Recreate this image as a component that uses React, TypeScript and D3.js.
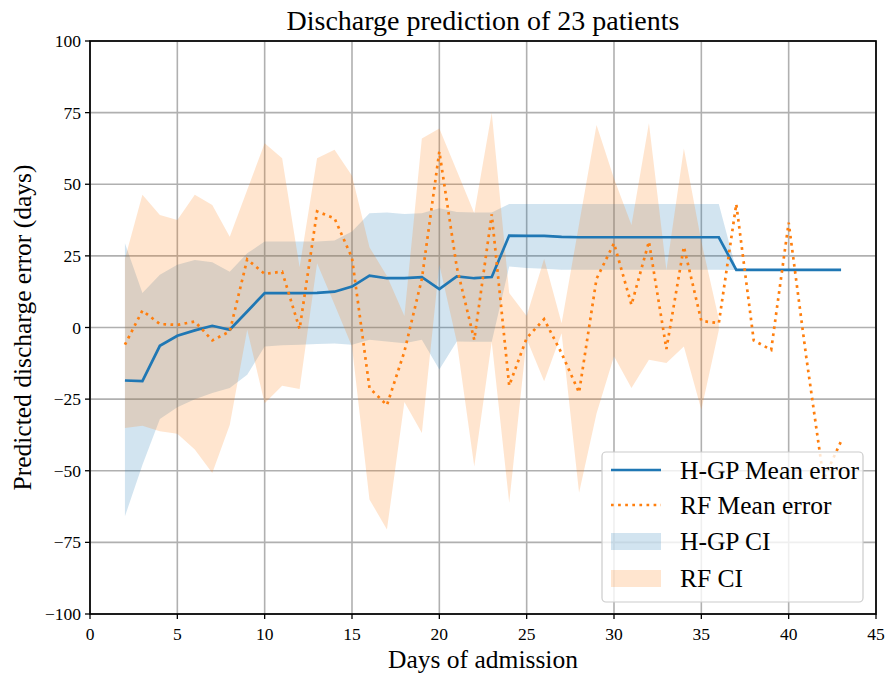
import React from 'react';
import * as d3 from 'd3';

// days of admission (x values)
const days = [2, 3, 4, 5, 6, 7, 8, 9, 10, 11, 12, 13, 14, 15, 16, 17, 18, 19, 20, 21, 22,
  23, 24, 25, 26, 27, 28, 29, 30, 31, 32, 33, 34, 35, 36, 37, 38, 39, 40, 41, 42, 43];

const hgpMean = [-18.5, -18.7, -6.4, -2.9, -1.0, 0.6, -0.8, 5.6, 12.0, 12.0, 12.0, 12.1, 12.5,
  14.3, 18.1, 17.2, 17.2, 17.6, 13.4, 17.8, 17.2, 17.6, 32.1, 32.0, 32.0, 31.6, 31.5, 31.5,
  31.5, 31.5, 31.5, 31.5, 31.5, 31.5, 31.5, 20.1, 20.1, 20.1, 20.1, 20.1, 20.1, 20.1];

const hgpUpper = [29.4, 12.0, 18.4, 21.9, 23.6, 22.8, 19.5, 25.9, 30.0, 30.0, 30.0, 30.0, 30.4,
  33.5, 39.9, 40.1, 39.6, 39.9, 41.6, 40.3, 40.1, 40.1, 43.1, 43.1, 43.1, 43.1, 43.1, 43.1,
  43.1, 43.1, 43.1, 43.1, 43.1, 43.1, 43.1, 20.1, 20.1, 20.1, 20.1, 20.1, 20.1, 20.1];

const hgpLower = [-65.9, -48.0, -31.9, -27.8, -25.0, -22.9, -21.1, -16.5, -6.6, -6.2, -6.0, -5.8,
  -5.6, -6.0, -4.3, -4.9, -5.5, -4.3, -14.7, -4.9, -5.0, -5.0, 21.3, 20.8, 20.5, 20.2, 20.2,
  20.2, 20.2, 20.2, 20.2, 20.2, 20.2, 20.2, 20.2, 20.1, 20.1, 20.1, 20.1, 20.1, 20.1, 20.1];

const rfMean = [-6.0, 5.9, 1.2, 0.9, 2.1, -4.5, -1.4, 23.8, 18.7, 19.5, -0.5, 40.5, 38.1, 24.3,
  -21.1, -27.1, -8.4, 17.0, 61.4, 21.0, -4.3, 39.5, -20.3, -3.7, 2.9, -9.0, -22.7, 17.0, 29.4,
  7.9, 30.0, -7.5, 28.2, 2.3, 1.5, 43.1, -4.5, -7.8, 36.6, -10.0, -53.0, -39.7];

// RF confidence band only covers days 2..36
const rfDays = [2, 3, 4, 5, 6, 7, 8, 9, 10, 11, 12, 13, 14, 15, 16, 17, 18, 19, 20, 21, 22,
  23, 24, 25, 26, 27, 28, 29, 30, 31, 32, 33, 34, 35, 36];

const rfUpper = [24, 46.3, 39.3, 37.5, 46.3, 42.8, 31.7, 48, 64.3, 59.1, 21, 59.1, 62, 53, 28,
  18, 4, 66, 69.5, 54.7, 39.9, 75, 12, 4, 24, 1.5, 36, 70.7, 52, 35.8, 71.3, 20, 62.5, 30, 3];

const rfLower = [-35.1, -34.3, -36.2, -37.1, -42.6, -50.8, -34, -0.8, -26.4, -20.3, -21.5, 22.4,
  8, -6.6, -60, -70.5, -26, -36.8, 22, -5, -48.5, -5, -61.2, -4, -18.8, -2, -57.7, -30, -10,
  -21.1, -11.3, -12.4, -6.6, -28.7, -1];

const xTicks = [0, 5, 10, 15, 20, 25, 30, 35, 40, 45];
const yTicks = [-100, -75, -50, -25, 0, 25, 50, 75, 100];

const legendItems = ['H-GP Mean error', 'RF Mean error', 'H-GP CI', 'RF CI'];

const W = 886;
const H = 673;
const FONT = '"Liberation Serif", "Times New Roman", serif';
const BLUE = '#1f77b4';
const ORANGE = '#ff7f0e';

const App: React.FC = () => {
  const x = d3.scaleLinear().domain([0, 45]).range([90, 876]);
  const y = d3.scaleLinear().domain([-100, 100]).range([614, 41]);
  const [x0, x1] = x.range();
  const [y0, y1] = y.range();

  const hgpBand = d3.area<number>()
    .x((_, i) => x(days[i]))
    .y0((_, i) => y(hgpLower[i]))
    .y1((_, i) => y(hgpUpper[i]));

  const rfBand = d3.area<number>()
    .x((_, i) => x(rfDays[i]))
    .y0((_, i) => y(rfLower[i]))
    .y1((_, i) => y(rfUpper[i]));

  const line = d3.line<number>()
    .x((_, i) => x(days[i]))
    .y(d => y(d));

  const fmt = (v: number) => (v < 0 ? '\u2212' + Math.abs(v) : String(v));

  // legend geometry
  const lg = { x: 602, y: 452, w: 261, h: 150 };
  const rowY = [470, 505, 541, 578];

  return (
    <div style={{ position: 'absolute', left: 0, top: 0 }}>
      <svg width={W} height={H} style={{ display: 'block', background: '#fff' }}>
        <defs>
          <clipPath id="plot">
            <rect x={x0} y={y1} width={x1 - x0} height={y0 - y1} />
          </clipPath>
        </defs>

        {/* grid */}
        <g stroke="#b0b0b0" strokeWidth={1.6}>
          {xTicks.map(t => (
            <line key={'gx' + t} x1={x(t)} x2={x(t)} y1={y1} y2={y0} />
          ))}
          {yTicks.map(t => (
            <line key={'gy' + t} x1={x0} x2={x1} y1={y(t)} y2={y(t)} />
          ))}
        </g>

        <g clipPath="url(#plot)">
          <path d={hgpBand(hgpMean) || ''} fill={BLUE} fillOpacity={0.2} />
          <path d={rfBand(rfUpper) || ''} fill={ORANGE} fillOpacity={0.2} />
          <path d={line(hgpMean) || ''} fill="none" stroke={BLUE} strokeWidth={2.7} />
          <path d={line(rfMean) || ''} fill="none" stroke={ORANGE} strokeWidth={2.7}
            strokeDasharray="2.7 4.4" />
        </g>

        {/* frame */}
        <rect x={x0} y={y1} width={x1 - x0} height={y0 - y1} fill="none" stroke="#000" strokeWidth={1.7} />

        {/* ticks */}
        <g stroke="#000" strokeWidth={1.3}>
          {xTicks.map(t => (
            <line key={'tx' + t} x1={x(t)} x2={x(t)} y1={y0} y2={y0 + 5} />
          ))}
          {yTicks.map(t => (
            <line key={'ty' + t} x1={x0} x2={x0 - 5} y1={y(t)} y2={y(t)} />
          ))}
        </g>
        <g fontFamily={FONT} fontSize={17.5} fill="#000">
          {xTicks.map(t => (
            <text key={'lx' + t} x={x(t)} y={y0 + 26} textAnchor="middle">{fmt(t)}</text>
          ))}
          {yTicks.map(t => (
            <text key={'ly' + t} x={x0 - 9} y={y(t) + 6} textAnchor="end">{fmt(t)}</text>
          ))}
        </g>

        {/* titles */}
        <text x={(x0 + x1) / 2} y={30} textAnchor="middle" fontFamily={FONT} fontSize={28}>
          Discharge prediction of 23 patients
        </text>
        <text x={(x0 + x1) / 2} y={668} textAnchor="middle" fontFamily={FONT} fontSize={25.5}>
          Days of admission
        </text>
        <text transform={`translate(31,${(y0 + y1) / 2}) rotate(-90)`} textAnchor="middle"
          fontFamily={FONT} fontSize={25.5}>
          Predicted discharge error (days)
        </text>

        {/* legend */}
        <g>
          <rect x={lg.x} y={lg.y} width={lg.w} height={lg.h} rx={4} fill="#fff" fillOpacity={0.8}
            stroke="#cccccc" strokeWidth={1.2} />
          <line x1={611} x2={661} y1={rowY[0]} y2={rowY[0]} stroke={BLUE} strokeWidth={2.7} />
          <line x1={611} x2={661} y1={rowY[1]} y2={rowY[1]} stroke={ORANGE} strokeWidth={2.7}
            strokeDasharray="2.7 4.4" />
          <rect x={611} y={rowY[2] - 8} width={50} height={17} fill={BLUE} fillOpacity={0.2} />
          <rect x={611} y={rowY[3] - 8} width={50} height={17} fill={ORANGE} fillOpacity={0.2} />
          {legendItems.map((s, i) => (
            <text key={s} x={680} y={rowY[i] + 8.5} fontFamily={FONT} fontSize={25.5}>{s}</text>
          ))}
        </g>
      </svg>
    </div>
  );
};

export default App;
